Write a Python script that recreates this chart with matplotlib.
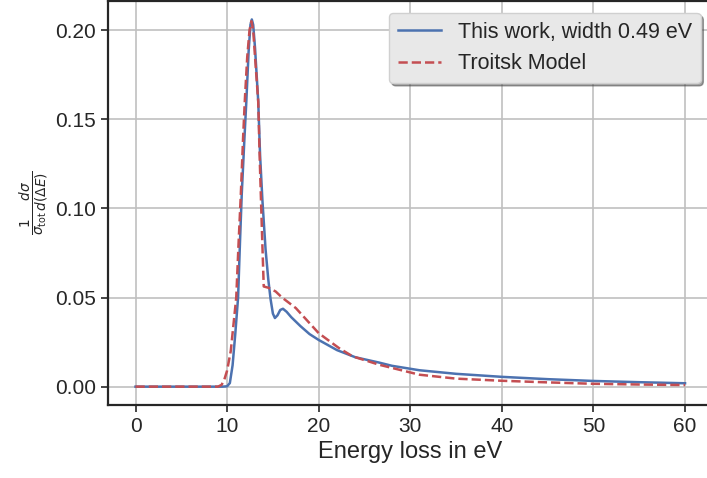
import matplotlib
matplotlib.use("Agg")
import matplotlib.pyplot as plt

# Energieverlust (eV) und normierter Wirkungsquerschnitt
e_fit = [0, 9.5, 10.0, 10.3, 10.6, 10.9, 11.2, 11.4, 11.6, 11.9, 12.1, 12.35, 12.55,
         12.7, 12.85, 13.05, 13.4, 13.6, 13.85, 14.2, 14.5, 14.75, 15.0, 15.22, 15.5,
         15.8, 16.1, 16.5, 17.0, 18.0, 19.0, 20.0, 22.0, 24.0, 26.6, 28.0, 31.0, 35.0,
         40.0, 45.0, 50.0, 55.0, 60.0]
val_fit = [0, 0, 0.0002, 0.002, 0.012, 0.03, 0.05, 0.08, 0.108, 0.14, 0.16, 0.188, 0.203,
           0.206, 0.203, 0.19, 0.16, 0.13, 0.105, 0.077, 0.06, 0.049, 0.041, 0.0385, 0.040,
           0.043, 0.0437, 0.042, 0.039, 0.034, 0.0295, 0.0262, 0.0205, 0.0165, 0.0135,
           0.0117, 0.0092, 0.0072, 0.0055, 0.0042, 0.0032, 0.0025, 0.0019]

e_troitsk = [0, 9.0, 9.4, 9.7, 10.0, 10.4, 10.7, 11.0, 11.25, 11.5, 11.75, 11.95, 12.2,
             12.45, 12.65, 12.85, 13.05, 13.4, 13.55, 13.7, 13.85, 14.0, 14.5, 15.3, 16.0,
             17.5, 20.0, 22.2, 23.7, 26.6, 31.0, 35.0, 40.0, 45.0, 50.0, 55.0, 60.0]
val_troitsk = [0, 0, 0.001, 0.004, 0.009, 0.02, 0.035, 0.05, 0.08, 0.108, 0.14, 0.162, 0.185,
               0.2, 0.205, 0.2, 0.185, 0.16, 0.13, 0.105, 0.08, 0.0562, 0.0555, 0.0534, 0.05,
               0.0441, 0.030, 0.0217, 0.017, 0.0123, 0.0067, 0.0045, 0.0033, 0.0024, 0.0016,
               0.0012, 0.0009]

plt.rcParams['font.family'] = ['Liberation Sans', 'DejaVu Sans']
plt.rcParams['text.color'] = '#262626'
plt.rcParams['axes.labelcolor'] = '#262626'
plt.rcParams['xtick.color'] = '#262626'
plt.rcParams['ytick.color'] = '#262626'

fig = plt.figure(figsize=(7.07, 4.78), dpi=100)
ax = fig.add_axes([0.1528, 0.1527, 0.855, 0.845])

ax.plot(e_fit, val_fit, '-', color='#4C72B0', lw=1.8, label='This work, width 0.49 eV')
ax.plot(e_troitsk, val_troitsk, '--', color='#C44E52', lw=1.8, label='Troitsk Model')

ax.grid(True, color='#c0c0c0', lw=1.2)
ax.set_axisbelow(True)
for s in ax.spines.values():
    s.set_color('#262626')
    s.set_linewidth(1.6)
ax.tick_params(labelsize=15, length=5, width=1.2)

ax.set_xlabel('Energy loss in eV', fontsize=17)
ax.set_ylabel(r'$\frac{1}{\sigma_{\rm tot}}\frac{d\sigma}{d(\Delta E)}$', fontsize=14)
ax.set_xticks([0, 10, 20, 30, 40, 50, 60])
ax.set_yticks([0.0, 0.05, 0.10, 0.15, 0.20])

leg = ax.legend(loc='upper right', fontsize=15.5, frameon=True, shadow=True, fancybox=True,
                bbox_to_anchor=(0.998, 0.997))
leg.get_frame().set_facecolor('#e8e8e8')
leg.get_frame().set_edgecolor('#d0d0d0')

fig.savefig('out.png', dpi=100)
